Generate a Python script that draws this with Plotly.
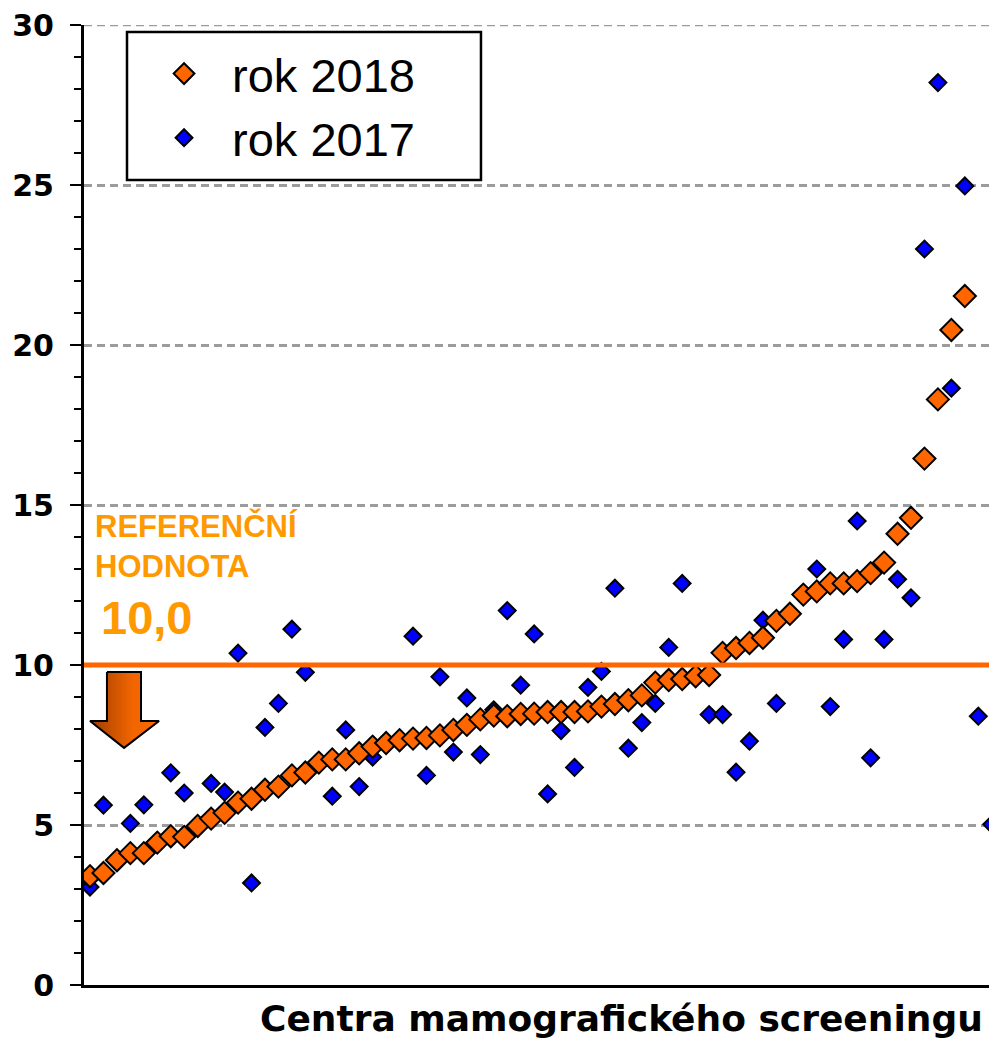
import plotly.graph_objects as go

# centre index (sorted by 2018 value)
centers_2018 = list(range(1, 67))
centers_2017 = list(range(1, 69))

values_2018 = [
    3.40, 3.50, 3.90, 4.12, 4.12, 4.45, 4.65, 4.63, 4.97, 5.20,
    5.38, 5.70, 5.82, 6.10, 6.20, 6.55, 6.64, 6.95, 7.05, 7.05,
    7.24, 7.45, 7.56, 7.65, 7.70, 7.72, 7.80, 7.97, 8.13, 8.30,
    8.42, 8.40, 8.47, 8.48, 8.53, 8.53, 8.53, 8.55, 8.70, 8.78,
    8.90, 9.05, 9.45, 9.53, 9.56, 9.65, 9.69, 10.38, 10.53, 10.69,
    10.85, 11.38, 11.60, 12.20, 12.30, 12.55, 12.55, 12.62, 12.87, 13.20,
    14.10, 14.60, 16.45, 18.30, 20.47, 21.53,
]

values_2017 = [
    3.06, 5.62, 3.90, 5.05, 5.63, 4.45, 6.63, 6.00, 4.97, 6.30,
    6.03, 10.37, 3.19, 8.05, 8.80, 11.12, 9.77, 6.95, 5.90, 7.97,
    6.20, 7.12, 7.56, 7.65, 10.90, 6.55, 9.63, 7.28, 8.97, 7.20,
    8.60, 11.70, 9.37, 10.97, 5.97, 7.95, 6.80, 9.30, 9.80, 12.40,
    7.40, 8.20, 8.80, 10.55, 12.55, 9.65, 8.45, 8.45, 6.65, 7.62,
    11.40, 8.80, 11.60, 12.20, 13.00, 8.70, 10.80, 14.50, 7.10, 10.80,
    12.68, 12.10, 23.00, 28.20, 18.65, 24.97, 8.40, 5.02,
]

REF_VALUE = 10.0
Y_MAX = 30
y_ticks = [0, 5, 10, 15, 20, 25, 30]

ORANGE = '#FF6600'
BLUE = '#0000FF'
LABEL_ORANGE = '#FF9900'
GRID = '#9C9C9C'

# decorative down arrow (data units)
arrow_x = [2.26, 4.79, 4.79, 6.13, 3.53, 1.0, 2.26, 2.26]
arrow_y = [9.78, 9.78, 8.25, 8.25, 7.41, 8.25, 8.25, 9.78]

fig = go.Figure()

fig.add_trace(go.Scatter(
    x=arrow_x, y=arrow_y,
    mode='lines',
    fill='toself',
    fillgradient=dict(type='horizontal',
                      colorscale=[[0, '#9E3D00'], [0.6, '#F06400'], [1, '#FF6A00']]),
    line=dict(color='black', width=2),
    showlegend=False,
    hoverinfo='skip'
))

fig.add_trace(go.Scatter(
    x=centers_2017, y=values_2017,
    mode='markers',
    name='rok 2017',
    legendrank=2,
    marker=dict(symbol='diamond', size=13, color=BLUE,
                line=dict(color='black', width=2))
))

fig.add_trace(go.Scatter(
    x=centers_2018, y=values_2018,
    mode='markers',
    name='rok 2018',
    legendrank=1,
    marker=dict(symbol='diamond', size=17, color=ORANGE,
                line=dict(color='black', width=2))
))

# top gridline (plotly drops the one on the range edge)
fig.add_shape(type='line', xref='paper', yref='y',
              x0=0, x1=1, y0=Y_MAX, y1=Y_MAX,
              line=dict(color=GRID, width=2.5, dash='8px,5px'),
              layer='below')

# reference line
fig.add_shape(type='line', xref='paper', yref='y',
              x0=0, x1=1, y0=REF_VALUE, y1=REF_VALUE,
              line=dict(color=ORANGE, width=5))

# legend frame
fig.add_shape(type='rect', xref='paper', yref='paper',
              x0=0.0471, x1=0.4348, y0=0.8385, y1=0.9927,
              fillcolor='white', line=dict(color='black', width=2.5),
              layer='below')

fig.add_annotation(
    text='REFERENČNÍ<br>HODNOTA',
    xref='paper', yref='y', x=0.0099, y=13.72,
    xanchor='left', yanchor='middle', align='left', showarrow=False,
    font=dict(family='Liberation Sans', size=31, color=LABEL_ORANGE, weight='bold')
)
fig.add_annotation(
    text='10,0',
    xref='paper', yref='y', x=0.016, y=11.47,
    xanchor='left', yanchor='middle', showarrow=False,
    font=dict(family='Liberation Sans', size=47, color=LABEL_ORANGE, weight='bold')
)
fig.add_annotation(
    text='Centra mamografického screeningu',
    xref='paper', yref='paper', x=0.987, y=-0.0345,
    xanchor='right', yanchor='middle', showarrow=False,
    font=dict(family='DejaVu Sans', size=36, color='black', weight='bold')
)

# page body adds an 8px offset, so the figure is sized to fit the window
fig.update_layout(
    width=989, height=1031,
    margin=dict(l=76, r=0, t=17, b=54),
    paper_bgcolor='white',
    plot_bgcolor='white',
    showlegend=True,
    legend=dict(
        x=0.057, y=0.988, xanchor='left', yanchor='top',
        bgcolor='rgba(0,0,0,0)', borderwidth=0,
        itemwidth=86,
        font=dict(family='Liberation Sans', size=47, color='black')
    ),
    xaxis=dict(
        range=[0.554, 68.39],
        showgrid=False, zeroline=False,
        showticklabels=False, ticks='',
        showline=True, linecolor='black', linewidth=3
    ),
    yaxis=dict(
        range=[0, Y_MAX],
        tickvals=y_ticks,
        ticks='outside', ticklen=11, tickwidth=2, tickcolor='black',
        ticklabelstandoff=10,
        ticklabeloverflow='allow',
        tickfont=dict(family='DejaVu Sans', size=30, color='black', weight='bold'),
        showline=True, linecolor='black', linewidth=3,
        showgrid=True, gridcolor=GRID, gridwidth=2.5, griddash='8px,5px',
        zeroline=False,
        minor=dict(dtick=1, ticks='outside', ticklen=7, tickwidth=2,
                   tickcolor='black', showgrid=False)
    )
)

fig.write_html("out.html")
